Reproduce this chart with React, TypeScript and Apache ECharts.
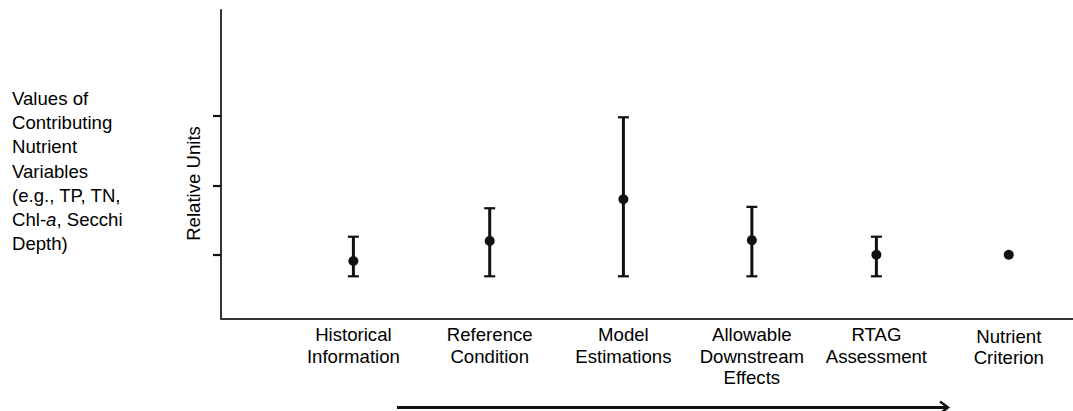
import React, { useEffect, useRef } from "react";
import * as echarts from "echarts";

// ---- data ----
const categories = [
  "Historical\nInformation",
  "Reference\nCondition",
  "Model\nEstimations",
  "Allowable\nDownstream\nEffects",
  "RTAG\nAssessment",
  "Nutrient\nCriterion",
];
const xPositions = [1.01, 2.05, 3.07, 4.05, 5.0, 6.01];
const pointValues = [0.91, 1.2, 1.8, 1.21, 1.0, 1.0];
const lowValues: (number | null)[] = [0.69, 0.69, 0.69, 0.69, 0.69, null];
const highValues: (number | null)[] = [1.26, 1.67, 2.98, 1.69, 1.26, null];
const yTickValues = [1, 2, 3];
const yAxisName = "Relative Units";
const sideNoteLines = [
  "Values of",
  "Contributing",
  "Nutrient",
  "Variables",
  "(e.g., TP, TN,",
  "Chl-|a|, Secchi",
  "Depth)",
];

const FONT = '"Liberation Sans", Arial, Helvetica, sans-serif';
const FS = 18.6;
const INK = "#111111";

export default function App() {
  const ref = useRef<HTMLDivElement>(null);

  useEffect(() => {
    if (!ref.current) return;
    const chart = echarts.init(ref.current, undefined, { renderer: "svg" });

    const barData = xPositions
      .map((x, i) => [x, lowValues[i], highValues[i]])
      .filter((d) => d[1] != null && d[2] != null);
    const pointData = xPositions.map((x, i) => [x, pointValues[i]]);

    const sideText = sideNoteLines
      .map((line) => {
        const parts = line.split("|");
        if (parts.length === 1) return `{n|${line}}`;
        return parts
          .map((p, k) => (k % 2 === 1 ? `{i|${p}}` : `{n|${p}}`))
          .join("");
      })
      .join("\n");

    chart.setOption({
      animation: false,
      backgroundColor: "#ffffff",
      grid: { left: 221, right: 0, top: 10, bottom: 92, containLabel: false },
      xAxis: {
        type: "value",
        min: 0,
        max: 6.5,
        axisLine: { show: true, lineStyle: { color: "#333", width: 2 } },
        axisTick: { show: false },
        splitLine: { show: false },
        axisLabel: {
          customValues: xPositions,
          margin: 5,
          color: "#000",
          fontFamily: FONT,
          fontSize: FS,
          lineHeight: 21.5,
          align: "center",
          formatter: (v: number) => {
            const i = xPositions.findIndex((p) => Math.abs(p - v) < 1e-6);
            if (i < 0) return "";
            if (i === categories.length - 1) return `{low|${categories[i]}}`;
            return categories[i];
          },
          rich: {
            low: {
              fontFamily: FONT,
              fontSize: FS,
              lineHeight: 21.5,
              color: "#000",
              padding: [3, 0, 0, 0],
            },
          },
        },
      },
      yAxis: {
        type: "value",
        min: 0.075,
        max: 4.525,
        name: yAxisName,
        nameLocation: "middle",
        nameRotate: 90,
        nameGap: 18,
        nameTextStyle: {
          fontFamily: FONT,
          fontSize: FS,
          color: "#000",
          padding: [0, 38, 0, 0],
        },
        axisLine: { show: true, lineStyle: { color: "#333", width: 2 } },
        axisTick: {
          show: true,
          customValues: yTickValues,
          length: 8,
          lineStyle: { color: "#111", width: 2.2 },
        },
        axisLabel: { show: false },
        splitLine: { show: false },
      },
      series: [
        {
          type: "custom",
          name: "range",
          data: barData,
          encode: { x: 0, y: [1, 2] },
          renderItem: (params: any, api: any) => {
            const x = api.value(0);
            const lo = api.coord([x, api.value(1)]);
            const hi = api.coord([x, api.value(2)]);
            const half = 5.5;
            const capStyle = { stroke: INK, lineWidth: 2.2 };
            return {
              type: "group",
              children: [
                {
                  type: "line",
                  shape: { x1: lo[0], y1: lo[1], x2: hi[0], y2: hi[1] },
                  style: { stroke: INK, lineWidth: 3 },
                },
                {
                  type: "line",
                  shape: { x1: lo[0] - half, y1: lo[1], x2: lo[0] + half, y2: lo[1] },
                  style: capStyle,
                },
                {
                  type: "line",
                  shape: { x1: hi[0] - half, y1: hi[1], x2: hi[0] + half, y2: hi[1] },
                  style: capStyle,
                },
              ],
            };
          },
          z: 2,
        },
        {
          type: "scatter",
          name: "value",
          data: pointData,
          symbol: "circle",
          symbolSize: 10,
          itemStyle: { color: INK, opacity: 1 },
          z: 3,
        },
      ],
      graphic: [
        {
          type: "text",
          left: 12,
          top: 89,
          style: {
            text: sideText,
            fill: "#000",
            rich: {
              n: { fontFamily: FONT, fontSize: FS, lineHeight: 24.2, fill: "#000" },
              i: {
                fontFamily: FONT,
                fontSize: FS,
                lineHeight: 24.2,
                fontStyle: "italic",
                fill: "#000",
              },
            },
          },
        },
        {
          type: "line",
          shape: { x1: 397, y1: 407.5, x2: 947, y2: 407.5 },
          style: { stroke: INK, lineWidth: 3 },
        },
        {
          type: "polyline",
          shape: { points: [[940, 401.5], [948, 407.5], [940, 413.5]] },
          style: { stroke: INK, lineWidth: 2.5, fill: "none" },
        },
      ],
    });

    return () => chart.dispose();
  }, []);

  return (
    <div
      ref={ref}
      style={{ position: "fixed", left: 0, top: 0, width: 1073, height: 411 }}
    />
  );
}
